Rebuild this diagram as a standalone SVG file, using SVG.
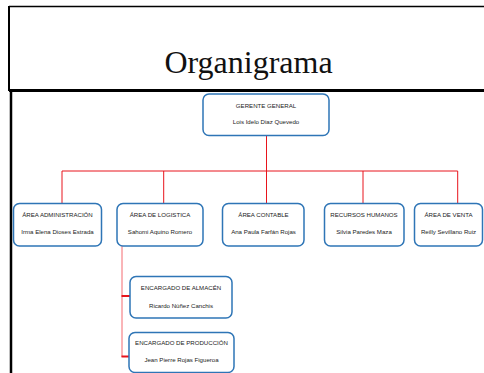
<svg xmlns="http://www.w3.org/2000/svg" width="484" height="373" viewBox="0 0 484 373">
<style>
.frame{fill:none;stroke:#000}
.box{fill:#fff;stroke:#2e75b6;stroke-width:1.5}
.t{font-family:"Liberation Sans",Arial,sans-serif;font-size:6.1px;fill:#222;text-anchor:middle}
.title{font-family:"Liberation Serif","Times New Roman",serif;font-size:32px;fill:#111;text-anchor:middle}
.ln{fill:none;stroke:#e8141c;stroke-width:1}
.ln2{fill:none;stroke:#f46a70;stroke-width:1}
.stub{fill:none;stroke:#e8141c;stroke-width:2}
</style>
<rect width="484" height="373" fill="#fff"/>
<g id="frame">
<line class="frame" x1="9" y1="6.5" x2="484" y2="6.5" stroke-width="1.5"/>
<line class="frame" x1="9" y1="6" x2="9" y2="91" stroke-width="2"/>
<line class="frame" x1="9" y1="90.5" x2="484" y2="90.5" stroke-width="3"/>
<line class="frame" x1="11" y1="90" x2="11" y2="373" stroke-width="2.5"/>
<text class="title" x="248.5" y="73">Organigrama</text>
</g>
<g id="connectors">
<path class="ln" d="M266.5 135.5V171M62 171H457.7M62 171V203.5M163.7 171V203.5M266.5 171V203.5M363 171V203.5M457.7 171V203.5"/>
<path class="ln2" d="M122 246V357"/>
<path class="stub" d="M121.5 296H130M121.5 356.5H129"/>
</g>
<g id="gerente">
<rect class="box" x="203" y="94" width="126" height="41.5" rx="6"/>
<text class="t" x="266" y="107.5">GERENTE GENERAL</text>
<text class="t" x="266" y="124">Lois Idelo Diaz Quevedo</text>
</g>
<g id="admin">
<rect class="box" x="13.5" y="203.5" width="88" height="42.5" rx="6"/>
<text class="t" x="57.5" y="217">ÁREA ADMINISTRACIÓN</text>
<text class="t" x="57.5" y="234">Irma Elena Dioses Estrada</text>
</g>
<g id="logistica">
<rect class="box" x="117" y="203.5" width="86" height="42.5" rx="6"/>
<text class="t" x="160" y="217">ÁREA DE LOGISTICA</text>
<text class="t" x="160" y="234">Sahomi Aquino Romero</text>
</g>
<g id="contable">
<rect class="box" x="222.5" y="203.5" width="81.5" height="42.5" rx="6"/>
<text class="t" x="263.5" y="217">ÁREA CONTABLE</text>
<text class="t" x="263.5" y="234">Ana Paula Farfán Rojas</text>
</g>
<g id="rrhh">
<rect class="box" x="324.5" y="203.5" width="79.5" height="42.5" rx="6"/>
<text class="t" x="364" y="217">RECURSOS HUMANOS</text>
<text class="t" x="364" y="234">Silvia Paredes Maza</text>
</g>
<g id="venta">
<rect class="box" x="414.5" y="203.5" width="68" height="42.5" rx="6"/>
<text class="t" x="448.5" y="217">ÁREA DE VENTA</text>
<text class="t" x="448.5" y="234">Reilly Sevillano Ruiz</text>
</g>
<g id="almacen">
<rect class="box" x="130" y="276.5" width="102" height="41.5" rx="6"/>
<text class="t" x="181" y="290">ENCARGADO DE ALMACÉN</text>
<text class="t" x="181" y="307.5">Ricardo Núñez Canchis</text>
</g>
<g id="produccion">
<rect class="box" x="129" y="332.5" width="105" height="40" rx="6"/>
<text class="t" x="181.5" y="345">ENCARGADO DE PRODUCCIÓN</text>
<text class="t" x="181.5" y="362">Jean Pierre Rojas Figueroa</text>
</g>
</svg>
